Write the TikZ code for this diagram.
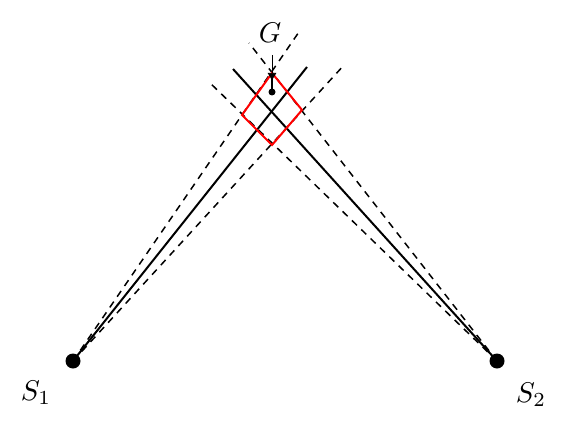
\documentclass[tikz,border=0pt]{standalone}
\usepackage{graphicx}
\usetikzlibrary{arrows.meta}
\begin{document}
\begin{tikzpicture}[x=1pt,y=-1pt,
  ray/.style={line width=2pt,black},
  cone/.style={line width=1.5pt,black,dash pattern=on 7pt off 6pt},
  lbl/.style={inner sep=0pt},
  src/.style={circle,fill=black,inner sep=0pt,minimum size=15pt}]
\useasboundingbox (0,0) rectangle (569,422);
\node[src] (s1) at (73,361) {};
\node[src] (s2) at (497,361) {};
\node[lbl] (l1) at (36,393) {\scalebox{2.85}{$S_1$}};
\node[lbl] (l2) at (531,395) {\scalebox{2.85}{$S_2$}};
\node[lbl] (g) at (270,33) {\scalebox{2.85}{$G$}};
\coordinate (r1) at (307,67);
\coordinate (r2) at (233,69);
\coordinate (d1a) at (301,29);
\coordinate (d1b) at (345,64);
\coordinate (d2a) at (249,43);
\coordinate (d2b) at (208,81);
\draw[cone] (s1.center) -- (d1a);
\draw[cone] (s1.center) -- (d1b);
\draw[cone] (s2.center) -- (d2a);
\draw[cone] (s2.center) -- (d2b);
\draw[ray] (s1.center) -- (r1);
\draw[ray] (s2.center) -- (r2);
\coordinate (qt) at (272,73);
\coordinate (qr) at (302,110);
\coordinate (qb) at (272,145);
\coordinate (ql) at (242,115);
\draw[red,line width=2pt] (qt) -- (qr) -- (qb) -- (ql) -- cycle;
\node[circle,fill=black,inner sep=0pt,minimum size=7pt] (gp) at (272,92) {};
\coordinate (gt) at (272,55);
\draw[line width=0.7pt,-{Latex[length=8pt,width=9pt]}] (gt) -- (272,81);
\draw[line width=2.4pt] (272,78) -- (gp.center);
\end{tikzpicture}
\end{document}
